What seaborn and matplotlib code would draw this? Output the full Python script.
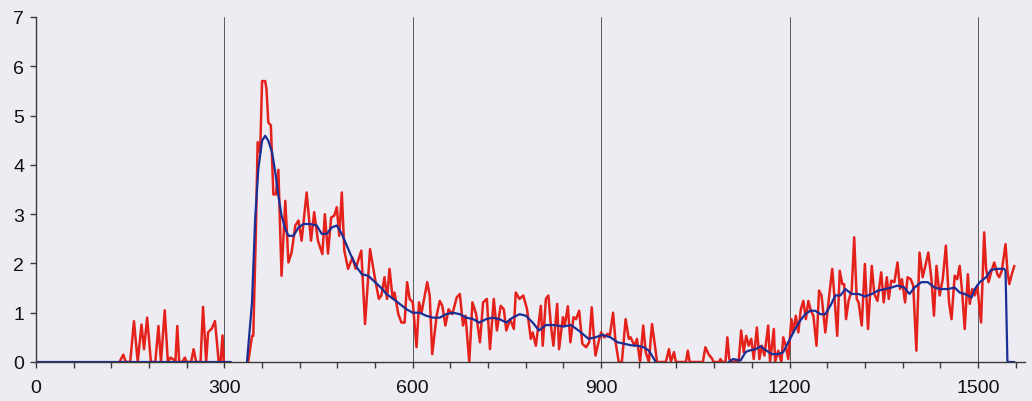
import numpy as np
import pandas as pd
import matplotlib
matplotlib.use("Agg")
import matplotlib.pyplot as plt
from matplotlib.ticker import MultipleLocator
import seaborn as sns

# ---- data ----
red_a_x = [133,139,143,150,156,162,168,172,177,183,190,195,199,205,210,214,219,222,225,228,
           233,237,240,247,251,255,262,266,271,274,280,285,291,294,297,299]
red_a_y = [0,0.15,0,0,0.83,0,0.76,0.26,0.9,0,0,0.73,0,1.05,0,0.09,0.05,0,0.73,0,
           0,0.09,0,0,0.26,0,0,1.12,0,0.6,0.68,0.83,0,0,0.54,0]

red_b_x = [338,344,346,350,353,357,360,365,367,370,374,378,382,386,391,397,402,407,413,418,
           423,431,438,443,449,456,460,465,470,475,479,483,487,491,497,504,509,518,524,532,
           540,546,550,555,559,563,568,571,577,582,587,591,595,600,606,610,614,618,623,627,
           631,638,643,647,652,657,663,670,675,680,684,690,695,701,707,712,718,723,729,734,
           740,745,749,755,761,764,770,776,782,788,791,796,800,804,807,812,816,820,824,830,
           833,839,842,847,851,856,860,865,870,876,881,885,889,891,897,900,905,910,914,919,
           923,928,933,939,944,947,953,957,962,967,971,976,981,985,989,1003,1008,1011,1016,1019,
           1035,1038,1041,1062,1066,1071,1077,1079,1088,1090,1093,1098,1101,1104,1108,1112,1114,1119,1123,1127,
           1131,1135,1139,1143,1148,1152,1156,1160,1166,1169,1175,1177,1182,1187,1190,1194,1198,1203,1206,1210,
           1214,1218,1222,1226,1230,1234,1238,1243,1247,1251,1257,1262,1268,1271,1276,1280,1284,1287,1290,1294,
           1299,1303,1307,1310,1315,1320,1325,1331,1335,1340,1346,1350,1355,1358,1362,1367,1372,1376,1379,1384,
           1388,1393,1397,1402,1407,1412,1417,1421,1426,1430,1434,1439,1444,1449,1454,1458,1463,1467,1471,1475,
           1479,1484,1487,1491,1495,1499,1505,1510,1513,1517,1521,1526,1531,1534,1538,1544,1547,1550,1554,1558]
red_b_y = [0,0.53,0.53,2.56,4.46,4.25,5.7,5.7,5.54,4.86,4.8,3.4,3.4,3.9,1.75,3.27,2.02,2.22,2.77,2.87,
           2.46,3.44,2.46,3.04,2.46,2.19,3.0,2.2,2.93,2.97,3.14,2.56,3.44,2.26,1.89,2.12,1.89,2.26,0.77,2.29,
           1.68,1.28,1.35,1.72,1.28,1.89,1.28,1.41,0.97,0.8,0.8,1.62,1.28,1.21,0.3,1.21,1.0,1.28,1.62,1.35,
           0.16,0.94,1.24,1.14,0.74,1.07,0.97,1.31,1.38,0.74,0.94,0.0,1.21,0.97,0.4,1.21,1.28,0.26,1.28,0.64,
           1.14,1.07,0.64,0.87,0.67,1.41,1.28,1.35,1.07,0.47,0.6,0.33,0.74,1.14,0.33,1.28,1.35,0.74,0.33,1.18,
           0.26,0.91,0.74,1.13,0.4,0.91,0.87,1.04,0.37,0.3,0.4,1.11,0.4,0.13,0.47,0.6,0.5,0.57,0.55,1.0,
           0.4,0,0,0.87,0.47,0.5,0.33,0.47,0,0.74,0.2,0,0.77,0.4,0,0,0.26,0,0.2,0,
           0,0.23,0,0,0.3,0.16,0.06,0,0,0.06,0,0,0.5,0.06,0,0,0.04,0,0.64,0.2,
           0.53,0.33,0.47,0.06,0.7,0.06,0.33,0.13,0.74,0,0.67,0,0.23,0,0.5,0.33,0.06,0.87,0.6,0.94,
           0.6,1.07,1.24,0.87,1.24,1.04,0.94,0.33,1.45,1.35,0.6,1.21,1.89,1.41,0.53,1.85,1.58,1.58,0.87,1.24,
           1.45,2.53,1.28,1.21,0.74,1.99,0.67,1.95,1.38,1.24,1.82,1.21,1.72,1.28,1.65,1.62,2.02,1.48,1.68,1.21,
           1.72,1.68,1.55,0.23,2.22,1.72,1.99,2.22,1.68,0.94,1.95,1.35,1.68,2.36,1.21,0.87,1.75,1.68,1.95,1.41,
           0.67,1.78,1.18,1.48,1.35,1.55,0.8,2.63,1.89,1.62,1.82,2.02,1.78,1.72,1.85,2.39,1.85,1.58,1.78,1.95]

blue_a_x = [0, 310]
blue_a_y = [0, 0]

blue_b_x = [336,344,349,354,360,365,370,376,381,386,391,397,402,410,418,426,436,447,455,463,
            471,479,487,495,503,511,519,529,540,550,558,569,579,590,600,611,621,632,643,653,
            664,675,685,696,706,717,727,738,749,759,770,780,791,801,812,824,840,852,864,880,
            891,902,915,926,937,947,958,968,976,981,987]
blue_b_y = [0,1.21,2.9,3.91,4.49,4.59,4.49,4.25,3.85,3.37,2.97,2.7,2.56,2.56,2.73,2.8,2.8,2.77,2.6,2.6,
            2.73,2.77,2.6,2.36,2.12,1.92,1.78,1.75,1.62,1.5,1.38,1.28,1.18,1.07,1.0,1.0,0.94,0.9,0.9,0.97,
            1.0,0.97,0.9,0.87,0.8,0.87,0.9,0.87,0.8,0.9,0.97,0.94,0.8,0.64,0.75,0.75,0.72,0.75,0.64,0.47,
            0.5,0.55,0.5,0.4,0.37,0.34,0.33,0.3,0.23,0.13,0]

blue_c_x = [1103,1110,1118,1122,1130,1135,1146,1154,1161,1172,1182,1190,1198,1209,1217,1225,1233,1241,1249,1257,
            1265,1273,1281,1289,1299,1310,1320,1331,1341,1352,1362,1372,1383,1391,1399,1410,1420,1431,1441,1452,
            1463,1471,1479,1490,1495,1503,1513,1521,1531,1542,1544,1547,1558]
blue_c_y = [0,0.06,0.04,0.03,0.2,0.23,0.26,0.32,0.25,0.16,0.16,0.2,0.4,0.67,0.84,0.97,1.04,1.04,0.97,0.97,
            1.14,1.35,1.35,1.48,1.38,1.38,1.33,1.38,1.45,1.48,1.51,1.55,1.51,1.38,1.51,1.62,1.62,1.51,1.48,1.48,
            1.51,1.41,1.38,1.31,1.48,1.62,1.72,1.87,1.89,1.89,1.85,0,0]

x_ticks = [0, 300, 600, 900, 1200, 1500]
y_ticks = [0, 1, 2, 3, 4, 5, 6, 7]

# ---- build tables ----
red_df = pd.DataFrame({
    "x": red_a_x + red_b_x,
    "y": red_a_y + red_b_y,
    "seg": ["a"] * len(red_a_x) + ["b"] * len(red_b_x),
})
blue_df = pd.DataFrame({
    "x": blue_a_x + blue_b_x + blue_c_x,
    "y": blue_a_y + blue_b_y + blue_c_y,
    "seg": ["a"] * len(blue_a_x) + ["b"] * len(blue_b_x) + ["c"] * len(blue_c_x),
})

bg = "#EDECF3"
sns.set_theme(style="white")
plt.rcParams["font.family"] = ["Liberation Sans", "DejaVu Sans"]

fig = plt.figure(figsize=(10.32, 4.02), dpi=100, facecolor=bg)
ax = fig.add_axes([36 / 1032, 39 / 402, (1025 - 36) / 1032, (363 - 18) / 402])
ax.set_facecolor(bg)

sns.lineplot(data=red_df, x="x", y="y", units="seg", estimator=None, sort=False,
             color="#E5211B", linewidth=1.8, ax=ax, legend=False)
sns.lineplot(data=blue_df, x="x", y="y", units="seg", estimator=None, sort=False,
             color="#1A2F96", linewidth=1.6, ax=ax, legend=False)

ax.set_xlim(0, 1575)
ax.set_ylim(0, 7)
ax.xaxis.set_major_locator(MultipleLocator(300))
ax.xaxis.set_minor_locator(MultipleLocator(60))
ax.set_xticks(x_ticks)
ax.set_yticks(y_ticks)
ax.set_xticklabels([str(v) for v in x_ticks])
ax.set_yticklabels([str(v) for v in y_ticks])
ax.set_xlabel("")
ax.set_ylabel("")

for v in x_ticks[1:]:
    ax.axvline(v, color="#5a5a5a", linewidth=0.7, zorder=1)

for s in ["top", "right"]:
    ax.spines[s].set_visible(False)
for s in ["left", "bottom"]:
    ax.spines[s].set_color("#3a3a3a")
    ax.spines[s].set_linewidth(1.0)
    ax.spines[s].set_zorder(3)

ax.tick_params(axis="both", which="both", direction="out", color="#3a3a3a",
               length=4.5, width=1.0, labelsize=14, labelcolor="#111111")
ax.tick_params(axis="x", which="both", bottom=True, pad=8)
ax.tick_params(axis="y", which="both", left=True, pad=4)

fig.savefig("out.png", dpi=100, facecolor=bg)
